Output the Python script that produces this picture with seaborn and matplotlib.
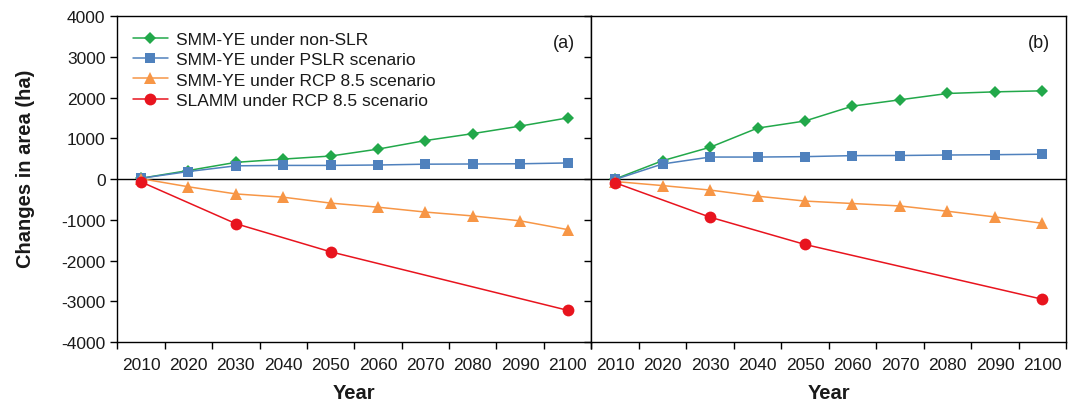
import matplotlib
matplotlib.use("Agg")
import matplotlib.pyplot as plt
import numpy as np
import pandas as pd
import seaborn as sns

# category labels on the x axis
years = [2010, 2020, 2030, 2040, 2050, 2060, 2070, 2080, 2090, 2100]

# panel (a)
a_nonslr = [20, 210, 410, 490, 565, 735, 945, 1115, 1300, 1500]
a_pslr = [20, 185, 325, 335, 335, 345, 365, 370, 375, 395]
a_rcp = [10, -190, -365, -445, -590, -690, -810, -905, -1025, -1240]
a_slamm = [-70, None, -1095, None, -1785, None, None, None, None, -3220]

# panel (b)
b_nonslr = [0, 450, 780, 1250, 1425, 1790, 1945, 2100, 2140, 2165]
b_pslr = [-10, 370, 540, 540, 550, 575, 578, 590, 598, 610]
b_rcp = [-60, -160, -270, -420, -540, -600, -660, -790, -930, -1085]
b_slamm = [-90, None, -935, None, -1605, None, None, None, None, -2950]

series_names = [
    "SMM-YE under non-SLR",
    "SMM-YE under PSLR scenario",
    "SMM-YE under RCP 8.5 scenario",
    "SLAMM under RCP 8.5 scenario",
]
colors = ["#22a84a", "#4f81bd", "#f79646", "#e8141e"]
markers = ["D", "s", "^", "o"]
msizes = [6.5, 7.5, 8, 8.5]

sns.set_style("ticks")
plt.rcParams["font.family"] = ["Liberation Sans", "DejaVu Sans"]
plt.rcParams["axes.unicode_minus"] = False
plt.rcParams["text.color"] = "#1a1a1a"
plt.rcParams["axes.labelcolor"] = "#1a1a1a"
plt.rcParams["xtick.color"] = "black"
plt.rcParams["ytick.color"] = "black"
plt.rcParams["xtick.labelcolor"] = "#1a1a1a"
plt.rcParams["ytick.labelcolor"] = "#1a1a1a"

fig = plt.figure(figsize=(10.77, 4.06), dpi=100)
ax_a = fig.add_axes([0.109, 0.155, 0.440, 0.803])
ax_b = fig.add_axes([0.549, 0.155, 0.441, 0.803])

panels = [
    (ax_a, [a_nonslr, a_pslr, a_rcp, a_slamm], "(a)"),
    (ax_b, [b_nonslr, b_pslr, b_rcp, b_slamm], "(b)"),
]

for ax, data, tag in panels:
    ax.axhline(0, color="black", linewidth=1.0, zorder=1)
    for name, vals, c, m, ms in zip(series_names, data, colors, markers, msizes):
        df = pd.DataFrame({"pos": np.arange(len(years)), "value": vals}).dropna()
        sns.lineplot(
            data=df, x="pos", y="value", ax=ax, color=c, marker=m,
            markersize=ms, markeredgewidth=0, linewidth=1.1, label=name,
            zorder=3,
        )
    ax.set_xlim(-0.5, len(years) - 0.5)
    ax.set_ylim(-4000, 4000)
    ax.set_yticks(range(-4000, 4001, 1000))
    # ticks at category boundaries, labels at category centres
    ax.set_xticks(np.arange(len(years) + 1) - 0.5)
    ax.set_xticklabels([])
    ax.set_xticks(np.arange(len(years)), minor=True)
    ax.set_xticklabels([str(y) for y in years], minor=True, fontsize=12.5)
    ax.tick_params(axis="x", which="minor", length=0, pad=10.5)
    ax.tick_params(axis="x", which="major", length=5, width=1, direction="out")
    ax.tick_params(axis="y", length=5, width=1, direction="out", labelsize=12.5)
    for sp in ax.spines.values():
        sp.set_linewidth(1.0)
        sp.set_color("black")
    ax.set_xlabel("Year", fontsize=14.5, fontweight="bold", labelpad=8)
    ax.set_ylabel("")
    ax.text(0.965, 0.92, tag, transform=ax.transAxes, ha="right", va="center",
            fontsize=13)
    ax.get_legend().remove()

ax_a.set_ylabel("Changes in area (ha)", fontsize=14.5, fontweight="bold")
ax_a.yaxis.set_label_coords(-0.174, 0.534)
ax_b.tick_params(axis="y", labelleft=False)

ax_a.legend(loc="upper left", frameon=False, fontsize=12.5,
            bbox_to_anchor=(0.0, 1.0), handlelength=2.0, handletextpad=0.5,
            labelspacing=0.3, borderaxespad=0.5)

fig.savefig("out.png", dpi=100)
